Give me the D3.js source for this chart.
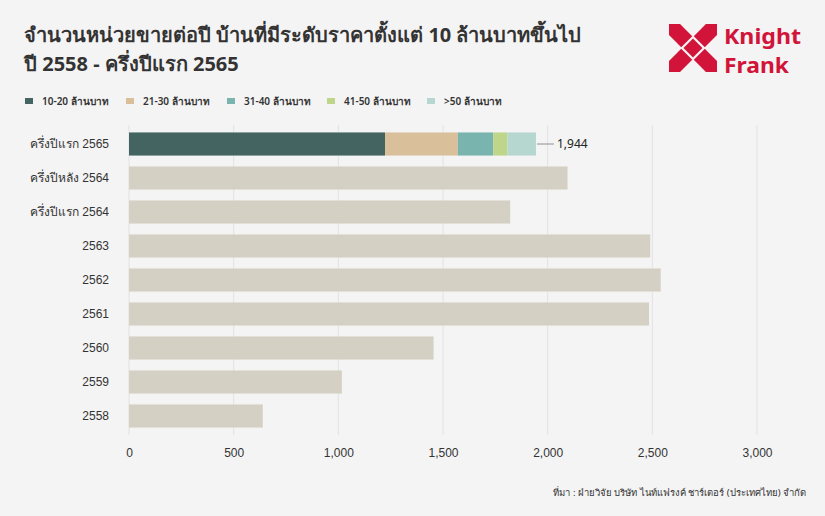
<!DOCTYPE html>
<html>
<head>
<meta charset="utf-8">
<script src="https://cdn.jsdelivr.net/npm/d3@7"></script>
<style>
  body { margin: 0; background: #f3f4f3; }
  svg { display: block; font-family: "Noto Sans", "Open Sans", sans-serif; }
</style>
</head>
<body>
<div id="chart"></div>
<script>
// ── data ──────────────────────────────────────────
const periods = ['ครึ่งปีแรก 2565', 'ครึ่งปีหลัง 2564', 'ครึ่งปีแรก 2564',
                 '2563', '2562', '2561', '2560', '2559', '2558'];
const totals  = [1944, 2095, 1821, 2490, 2540, 2484, 1455, 1017, 639];

const segNames  = ['10-20 ล้านบาท', '21-30 ล้านบาท', '31-40 ล้านบาท', '41-50 ล้านบาท', '>50 ล้านบาท'];
const segValues = [1223, 348, 169, 68, 136];   // ครึ่งปีแรก 2565 only
const segColors = ['#436461', '#d9c09a', '#79b4ae', '#bfd68a', '#b6d6d0'];

const xTicks = [0, 500, 1000, 1500, 2000, 2500, 3000];

// ── layout ────────────────────────────────────────
const W = 825, H = 516;
const margin = { left: 129, right: 68, top: 127, bottom: 83 };

const svg = d3.select('#chart').append('svg')
  .attr('width', W).attr('height', H);

svg.append('rect').attr('width', W).attr('height', H).attr('fill', '#f3f4f3');

const x = d3.scaleLinear().domain([0, 3000]).range([margin.left, W - margin.right]);
const y = d3.scaleBand().domain(periods).range([margin.top, H - margin.bottom]).paddingInner(0.32).paddingOuter(0.16);

// title
const title = svg.append('text').attr('x', 24).attr('fill', '#333')
  .attr('font-size', 20).attr('font-weight', 700);
title.append('tspan').attr('x', 24).attr('y', 42).text('จำนวนหน่วยขายต่อปี บ้านที่มีระดับราคาตั้งแต่ 10 ล้านบาทขึ้นไป');
title.append('tspan').attr('x', 24).attr('y', 71).text('ปี 2558 - ครึ่งปีแรก 2565');

// logo
const logo = svg.append('g').attr('transform', 'translate(669,24)');
const s = 48, c = '#d2143a';
logo.append('rect').attr('width', s).attr('height', s).attr('fill', c);
const m = s / 2, n = s * 0.27;
[[[m - n, 0], [m + n, 0], [m, n]],
 [[m - n, s], [m + n, s], [m, s - n]],
 [[0, m - n], [0, m + n], [n, m]],
 [[s, m - n], [s, m + n], [s - n, m]]].forEach(p => {
  logo.append('polygon').attr('points', p.map(q => q.join(',')).join(' ')).attr('fill', '#f3f4f3');
});
logo.append('polygon')
  .attr('points', [[m, n], [s - n, m], [m, s - n], [n, m]].map(q => q.join(',')).join(' '))
  .attr('fill', 'none').attr('stroke', '#f3f4f3').attr('stroke-width', 2.2);
svg.append('text').attr('x', 724).attr('y', 44).attr('fill', c)
  .attr('font-size', 21).attr('font-weight', 700)
  .attr('textLength', 77).attr('lengthAdjust', 'spacingAndGlyphs').text('Knight');
svg.append('text').attr('x', 724).attr('y', 73).attr('fill', c)
  .attr('font-size', 21).attr('font-weight', 700)
  .attr('textLength', 65).attr('lengthAdjust', 'spacingAndGlyphs').text('Frank');

// legend
const legendX = [25, 126, 227, 327, 427];
const legend = svg.append('g');
segNames.forEach((name, i) => {
  legend.append('rect').attr('x', legendX[i]).attr('y', 98).attr('width', 8).attr('height', 6)
    .attr('fill', segColors[i]);
  legend.append('text').attr('x', legendX[i] + 17).attr('y', 105)
    .attr('font-size', 10).attr('font-weight', 600).attr('fill', '#333').text(name);
});

// grid
svg.append('g').selectAll('line').data(xTicks).join('line')
  .attr('x1', d => x(d)).attr('x2', d => x(d))
  .attr('y1', margin.top - 2).attr('y2', H - margin.bottom + 2)
  .attr('stroke', '#e2e3e2').attr('stroke-width', 1);

// x axis
const xAxis = svg.append('g').attr('transform', `translate(0,${H - margin.bottom})`)
  .call(d3.axisBottom(x).tickValues(xTicks).tickFormat(d3.format(',')).tickSize(0).tickPadding(15));
xAxis.select('.domain').remove();
xAxis.selectAll('text').attr('font-size', 12).attr('fill', '#333').attr('font-family', 'inherit');

// y axis
const yAxis = svg.append('g').attr('transform', `translate(${margin.left},0)`)
  .call(d3.axisLeft(y).tickSize(0).tickPadding(20));
yAxis.select('.domain').remove();
yAxis.selectAll('text').attr('font-size', 12).attr('fill', '#333').attr('font-family', 'inherit');

// plain bars
svg.append('g').selectAll('rect').data(periods.slice(1)).join('rect')
  .attr('x', x(0)).attr('y', d => y(d))
  .attr('width', d => x(totals[periods.indexOf(d)]) - x(0))
  .attr('height', y.bandwidth())
  .attr('fill', '#d5d0c4');

// stacked first bar
const stackData = [Object.fromEntries(segNames.map((k, i) => [k, segValues[i]]))];
const series = d3.stack().keys(segNames)(stackData);
svg.append('g').selectAll('rect').data(series).join('rect')
  .attr('x', d => x(d[0][0])).attr('y', y(periods[0]))
  .attr('width', d => x(d[0][1]) - x(d[0][0]))
  .attr('height', y.bandwidth())
  .attr('fill', (d, i) => segColors[i]);

// total annotation
const yc = y(periods[0]) + y.bandwidth() / 2;
svg.append('line').attr('x1', x(totals[0]) + 1).attr('x2', x(totals[0]) + 18)
  .attr('y1', yc).attr('y2', yc).attr('stroke', '#777').attr('stroke-width', 0.8);
svg.append('text').attr('x', x(totals[0]) + 21).attr('y', yc + 4)
  .attr('font-size', 12).attr('fill', '#222').text(d3.format(',')(totals[0]));

// source
svg.append('text').attr('x', 806).attr('y', 496).attr('text-anchor', 'end')
  .attr('font-size', 9.5).attr('fill', '#333')
  .text('ที่มา : ฝ่ายวิจัย บริษัท ไนท์แฟรงค์ ชาร์เตอร์ (ประเทศไทย) จำกัด');
</script>
</body>
</html>
